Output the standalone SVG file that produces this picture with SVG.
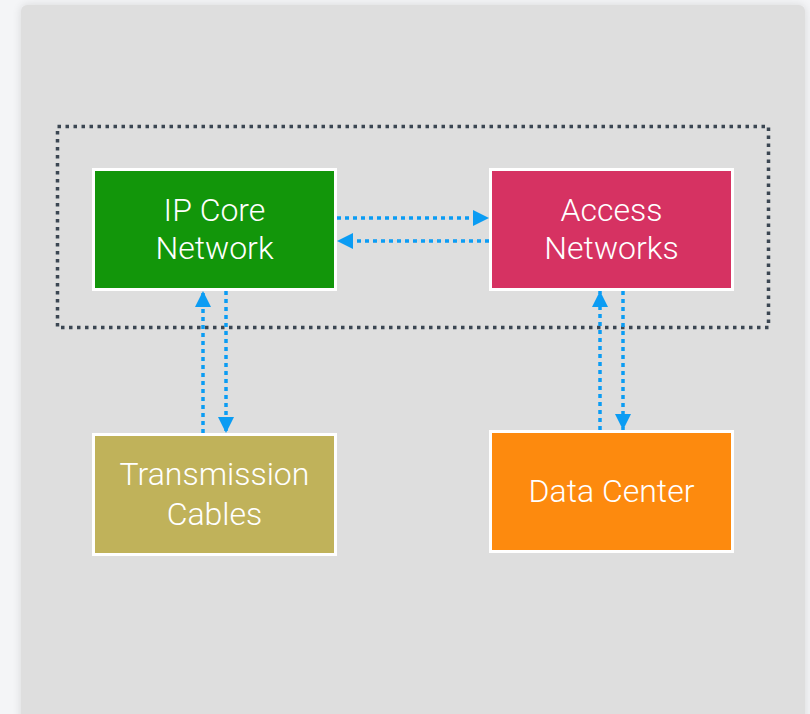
<svg xmlns="http://www.w3.org/2000/svg" width="810" height="714" viewBox="0 0 810 714">
<defs>
<style>
.node rect{stroke:#ffffff;stroke-width:3}
.node text{font-family:Roboto,"Liberation Sans",sans-serif;font-weight:300;font-size:32px;fill:#ffffff;text-anchor:middle}
.conn line{stroke:#0b9cf3;stroke-width:3.5;stroke-dasharray:4 4;fill:none}
</style>
<marker id="ah" viewBox="0 0 16 16" refX="16" refY="8" markerWidth="16" markerHeight="16" markerUnits="userSpaceOnUse" orient="auto">
<path d="M0,0 L16,8 L0,16 Z" fill="#0b9cf3"/>
</marker>
<filter id="sh" x="-5%" y="-5%" width="110%" height="110%">
<feGaussianBlur in="SourceAlpha" stdDeviation="5"/>
<feOffset dx="0" dy="0"/>
<feComponentTransfer><feFuncA type="linear" slope="0.12"/></feComponentTransfer>
<feMerge><feMergeNode/><feMergeNode in="SourceGraphic"/></feMerge>
</filter>
</defs>
<rect x="0" y="0" width="810" height="714" fill="#f4f5f7"/>
<rect x="21" y="5" width="784" height="730" rx="6" fill="#dedede" filter="url(#sh)"/>
<rect id="boundary" x="57.5" y="126.5" width="711" height="201" fill="none" stroke="#3b4652" stroke-width="3.5" stroke-dasharray="3.5 4.5"/>
<g id="connectors" class="conn">
<line x1="337" y1="218" x2="489" y2="218" marker-end="url(#ah)"/>
<line x1="489" y1="241" x2="337" y2="241" marker-end="url(#ah)"/>
<line x1="203" y1="433" x2="203" y2="291" marker-end="url(#ah)"/>
<line x1="226" y1="291" x2="226" y2="433" marker-end="url(#ah)"/>
<line x1="600" y1="430" x2="600" y2="291" marker-end="url(#ah)"/>
<line x1="623" y1="291" x2="623" y2="430" marker-end="url(#ah)"/>
</g>
<g id="ip-core" class="node">
<rect x="93.5" y="169.5" width="242" height="120" fill="#12960a"/>
<text x="214.5" y="221">IP Core</text>
<text x="214.5" y="259">Network</text>
</g>
<g id="access" class="node">
<rect x="490.5" y="169.5" width="242" height="120" fill="#d63262"/>
<text x="611.5" y="221">Access</text>
<text x="611.5" y="259">Networks</text>
</g>
<g id="transmission" class="node">
<rect x="93.5" y="434.5" width="242" height="120" fill="#c0b25a"/>
<text x="214.5" y="485">Transmission</text>
<text x="214.5" y="525">Cables</text>
</g>
<g id="datacenter" class="node">
<rect x="490.5" y="431.5" width="242" height="120" fill="#fd8a0e"/>
<text x="611.5" y="502">Data Center</text>
</g>
</svg>
